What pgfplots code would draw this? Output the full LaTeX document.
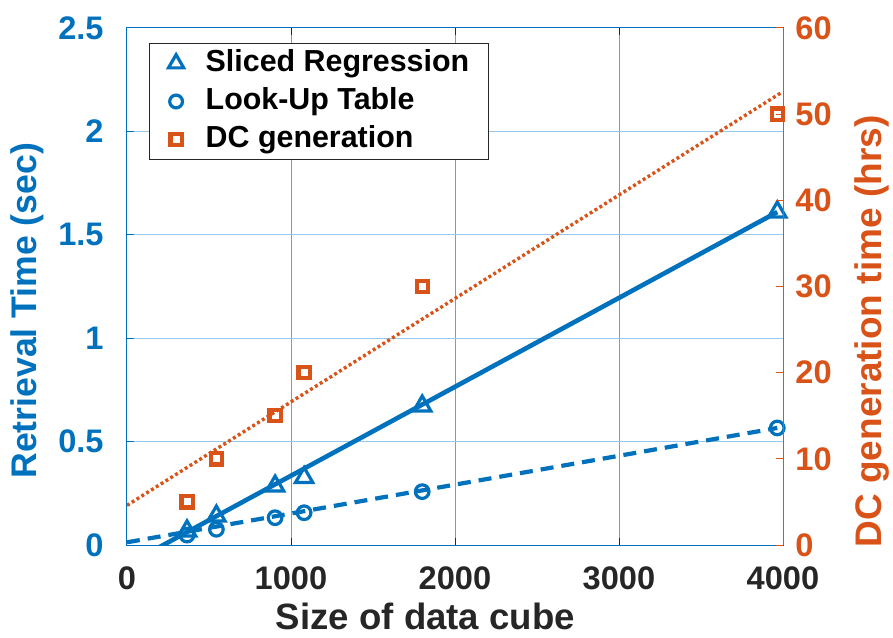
\documentclass[border=0pt]{standalone}
\usepackage{pgfplots}
\pgfplotsset{compat=1.18}
\usepackage{fontspec}
\setmainfont{Liberation Sans}

\definecolor{mblue}{RGB}{0,114,189}
\definecolor{morange}{RGB}{217,83,25}
\definecolor{axgray}{RGB}{38,38,38}
\definecolor{gridblue}{RGB}{150,200,235}
\definecolor{gridgray}{RGB}{150,150,150}

% shared geometry of the two overlaid axes
\pgfplotsset{
  twin/.style={
    width=328pt, height=258.5pt, scale only axis,
    xmin=0, xmax=4000,
    scaled ticks=false,
    /pgf/number format/assume math mode=true,
    /pgf/number format/1000 sep={},
    tick align=inside,
    major tick length=3.5pt,
    tick label style={font=\fontsize{16.3}{16.3}\selectfont\bfseries},
    axis line style={line width=0.5pt},
  },
}

\begin{document}
\begin{tikzpicture}
% left axis: retrieval time
\begin{axis}[
  twin,
  ymin=0, ymax=2.5,
  xtick={0,1000,2000,3000,4000},
  ytick={0,0.5,1,1.5,2,2.5},
  xtick pos=both, ytick pos=left,
  x tick style={axgray, line width=0.5pt},
  y tick style={mblue, line width=0.5pt},
  x axis line style={axgray},
  y axis line style={mblue},
  xticklabel style={text=axgray, inner sep=0pt, anchor=north, yshift=-10.5pt},
  yticklabel style={text=mblue, inner sep=0pt, anchor=east, xshift=-11.5pt},
  grid=major,
  x grid style={gridgray, line width=0.5pt},
  y grid style={gridblue, line width=0.5pt},
  xlabel={Size of data cube},
  ylabel={Retrieval Time (sec)},
  xlabel style={at={(axis description cs:0.455,-0.139)}, anchor=center,
    font=\fontsize{18.3}{18.3}\selectfont\bfseries, text=axgray},
  ylabel style={at={(axis description cs:-0.152,0.453)}, anchor=center,
    font=\fontsize{17.8}{17.8}\selectfont\bfseries, text=mblue},
]
% fitted trends
\addplot[mblue, line width=2.3pt, forget plot] coordinates {(0,-0.095) (3965,1.61)};
\addplot[mblue, line width=2.1pt, dash pattern=on 6.5pt off 4pt, forget plot]
  coordinates {(0,0.013) (3965,0.566)};
% measured retrieval times
\addplot[only marks, mark=triangle, mark size=5pt, mblue,
  mark options={line width=1.6pt, fill=none}, forget plot]
  coordinates {(366,0.068) (545,0.140) (903,0.285) (1080,0.326) (1800,0.672) (3965,1.61)};
\addplot[only marks, mark=o, mark size=3.4pt, mblue,
  mark options={line width=1.6pt}, forget plot]
  coordinates {(366,0.048) (545,0.076) (903,0.132) (1080,0.156) (1800,0.258) (3965,0.566)};
\end{axis}

% right axis: data cube generation time
\begin{axis}[
  twin,
  ymin=0, ymax=60,
  ytick={0,10,20,30,40,50,60},
  axis x line=none,
  axis y line*=right,
  ytick pos=right,
  y axis line style={morange, line width=0.5pt},
  y tick style={morange, line width=0.5pt},
  yticklabel style={text=morange, inner sep=0pt, anchor=west, xshift=6pt},
  ylabel={DC generation time (hrs)},
  ylabel style={at={(axis description cs:1.1364,0.413)}, anchor=center,
    font=\fontsize{18.5}{18.5}\selectfont\bfseries, text=morange},
  legend cell align=left,
  legend style={
    at={(0.0335,0.971)}, anchor=north west,
    draw=axgray, line width=0.5pt, fill=white,
    font=\fontsize{15.2}{15.2}\selectfont\bfseries, text=black,
    inner xsep=9.5pt, inner ysep=3pt,
    row sep=5pt,
    nodes={inner sep=0pt, text height=11pt, text depth=3pt},
    /tikz/every odd column/.style={column sep=11pt},
  },
]
\addlegendimage{only marks, mark=triangle, mark size=4.4pt, mblue, mark options={line width=1.6pt}}
\addlegendentry{Sliced Regression}
\addlegendimage{only marks, mark=o, mark size=3.2pt, mblue, mark options={line width=1.6pt}}
\addlegendentry{Look-Up Table}
\addplot[morange, line width=1.7pt, dash pattern=on 1.5pt off 1.35pt, forget plot]
  coordinates {(0,4.6) (3990,52.5)};
\addplot[only marks, mark=square, mark size=2.8pt, morange,
  mark options={line width=2.1pt}]
  coordinates {(366,5) (545,10) (903,15) (1080,20) (1800,30) (3965,50)};
\addlegendentry{DC generation}
\end{axis}

\pgfresetboundingbox
\useasboundingbox (-63.5pt,-46pt) rectangle (383pt,272.5pt);
\end{tikzpicture}
\end{document}
